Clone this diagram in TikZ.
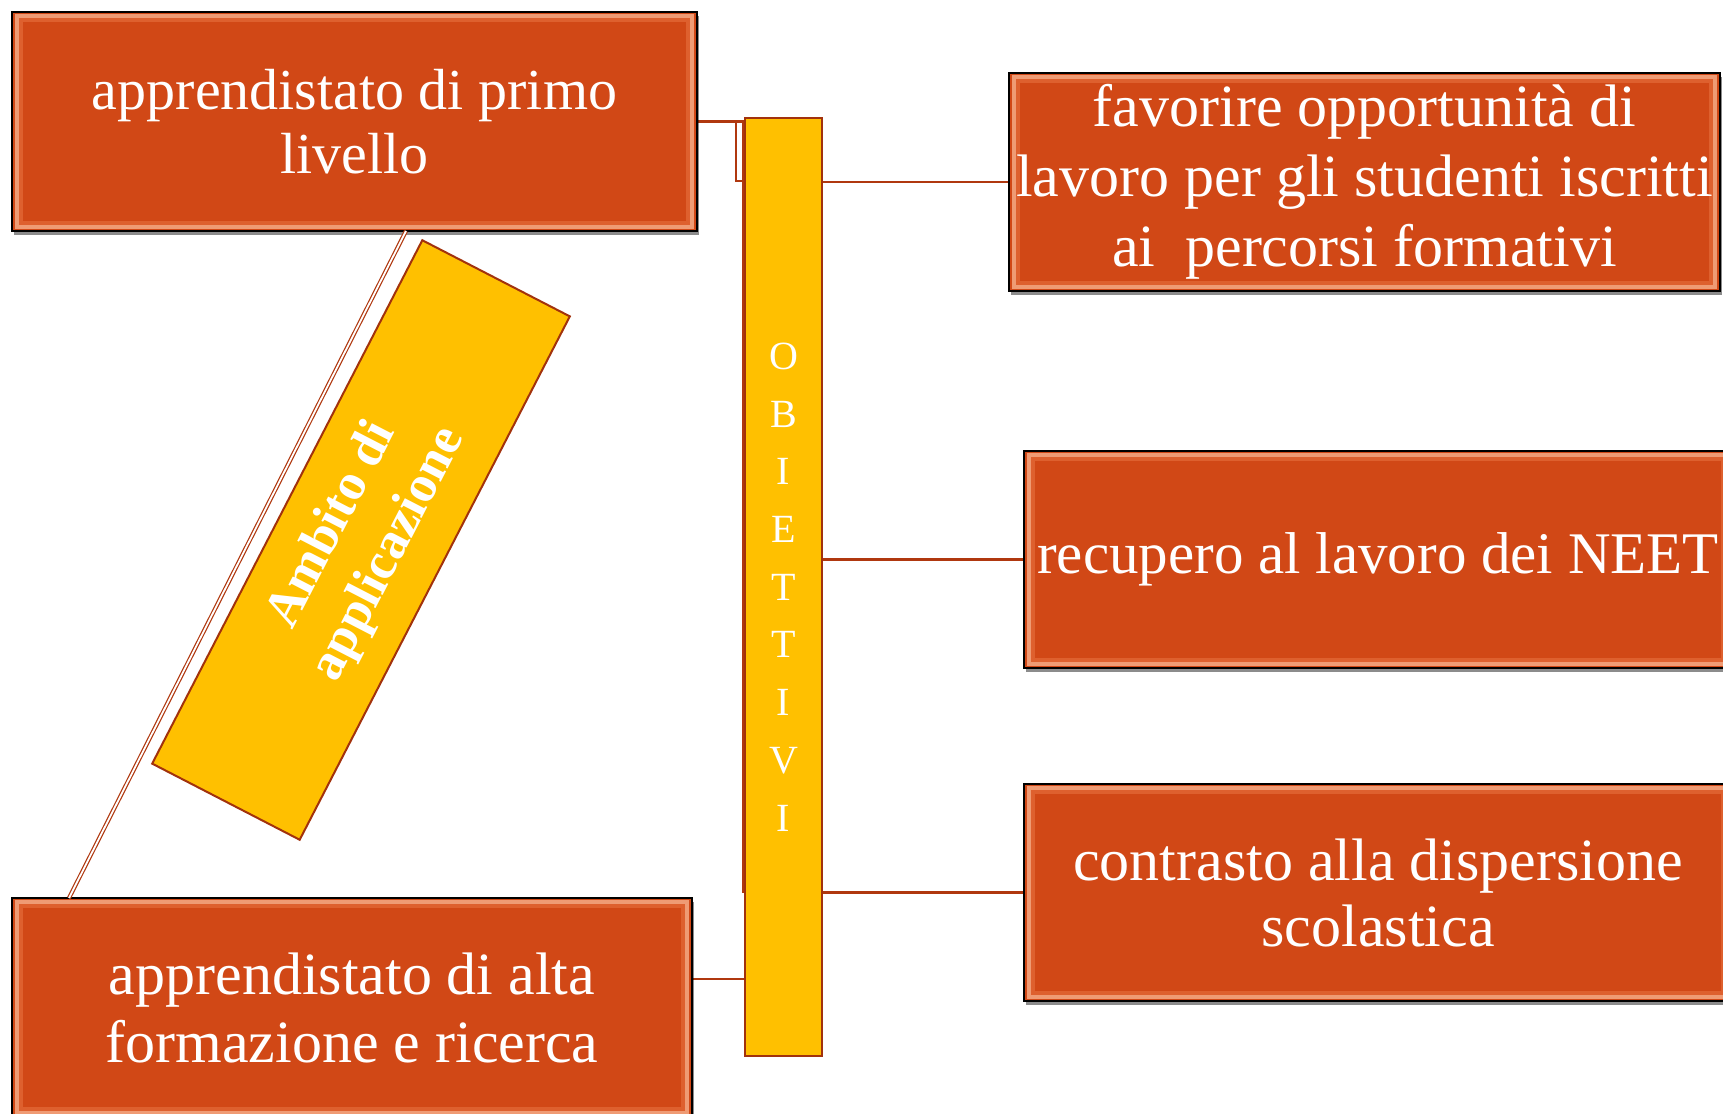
\documentclass[tikz,border=0pt]{standalone}
\usepackage{fontspec}
\setmainfont{Liberation Serif}
\usetikzlibrary{shadows,backgrounds,calc}
\definecolor{boxred}{HTML}{D14816}
\definecolor{bevlight}{HTML}{F7B08C}
\definecolor{bevmid}{HTML}{E8713E}
\definecolor{ygold}{HTML}{FFC000}
\definecolor{yedge}{HTML}{A2320C}
\definecolor{linecol}{HTML}{B0380F}
\tikzset{
  redbox/.style={rectangle, fill=boxred, draw=black, line width=0.7pt, inner sep=0pt,
    text=white, align=center,
    drop shadow={shadow xshift=1.2pt, shadow yshift=-2pt, opacity=0.45, fill=black},
    path picture={
      \draw[bevlight, line width=1.6pt, opacity=0.8]
        ([shift={(2.5pt,-2pt)}]path picture bounding box.north west) rectangle
        ([shift={(-2.5pt,2pt)}]path picture bounding box.south east);
      \draw[bevmid, line width=2pt, opacity=0.6]
        ([shift={(4.5pt,-3.8pt)}]path picture bounding box.north west) rectangle
        ([shift={(-4.5pt,3.8pt)}]path picture bounding box.south east);
    }},
  ybox/.style={rectangle, fill=ygold, draw=yedge, line width=1pt, inner sep=0pt, text=white, align=center},
  conn/.style={draw=linecol, line width=1.2pt},
}
\begin{document}
\begin{tikzpicture}[x=0.5pt,y=-0.5pt]
\useasboundingbox (0,0) rectangle (1723,1113);
\clip (0,0) rectangle (1723,1113);
% left boxes
\node[redbox, minimum width=342.5pt, minimum height=109.5pt, font=\fontsize{29}{32}\selectfont]
  (bA) at (354.5,121.5) {apprendistato di primo\\livello};
\node[redbox, minimum width=340pt, minimum height=109.5pt, font=\fontsize{30}{34}\selectfont]
  (bB) at (352,1007.5) {apprendistato di alta\\formazione e ricerca};
% right boxes
\node[redbox, minimum width=355.5pt, minimum height=109pt, font=\fontsize{30}{35}\selectfont]
  (r1) at (1364.5,182) {favorire opportunità di\\lavoro per gli studenti iscritti\\ai\ \ percorsi formativi};
\node[redbox, minimum width=354pt, minimum height=108.5pt, font=\fontsize{29.5}{34}\selectfont]
  (r2) at (1378,559.5) {recupero al lavoro dei NEET};
\node[redbox, minimum width=354pt, minimum height=108.5pt, font=\fontsize{30}{33}\selectfont]
  (r3) at (1378,892.5) {contrasto alla dispersione\\scolastica};
% central bar
\node[ybox, minimum width=38.5pt, minimum height=469pt, font=\fontsize{20}{28.85}\selectfont]
  (bar) at (783.5,587) {O\\B\\I\\E\\T\\T\\I\\V\\I};
% diagonal box
\node[ybox, rotate=62.7, minimum width=294.5pt, minimum height=83pt,
      font=\bfseries\fontsize{26}{32}\selectfont] (amb) at (361,540) {Ambito di\\applicazione};
% connectors
\coordinate (dA) at (406,231);
\coordinate (dB) at (69,898);
\draw[draw=linecol, line width=0.6pt, double=white, double distance=0.9pt] (dA) -- (dB);
\begin{pgfonlayer}{background}
  \fill[white] (0,0) rectangle (1723,1113);
  \draw[conn] (bA.east) -- (bA.east -| bar.west);
  \draw[conn, line width=1pt] (736,121) rectangle (744,181);
  \draw[conn, line width=1pt] (742.5,121) -- (742.5,893);
  \draw[conn] (bar.east |- r1.west) -- (r1.west);
  \draw[conn] (bar.east |- r2.west) -- (r2.west);
  \draw[conn] (bar.east |- r3.west) -- (r3.west);
  \coordinate (bBc) at ($(bB.north east)!0.37!(bB.south east)$);
  \draw[conn] (bBc) -- (bBc -| bar.west);
\end{pgfonlayer}
\end{tikzpicture}
\end{document}
